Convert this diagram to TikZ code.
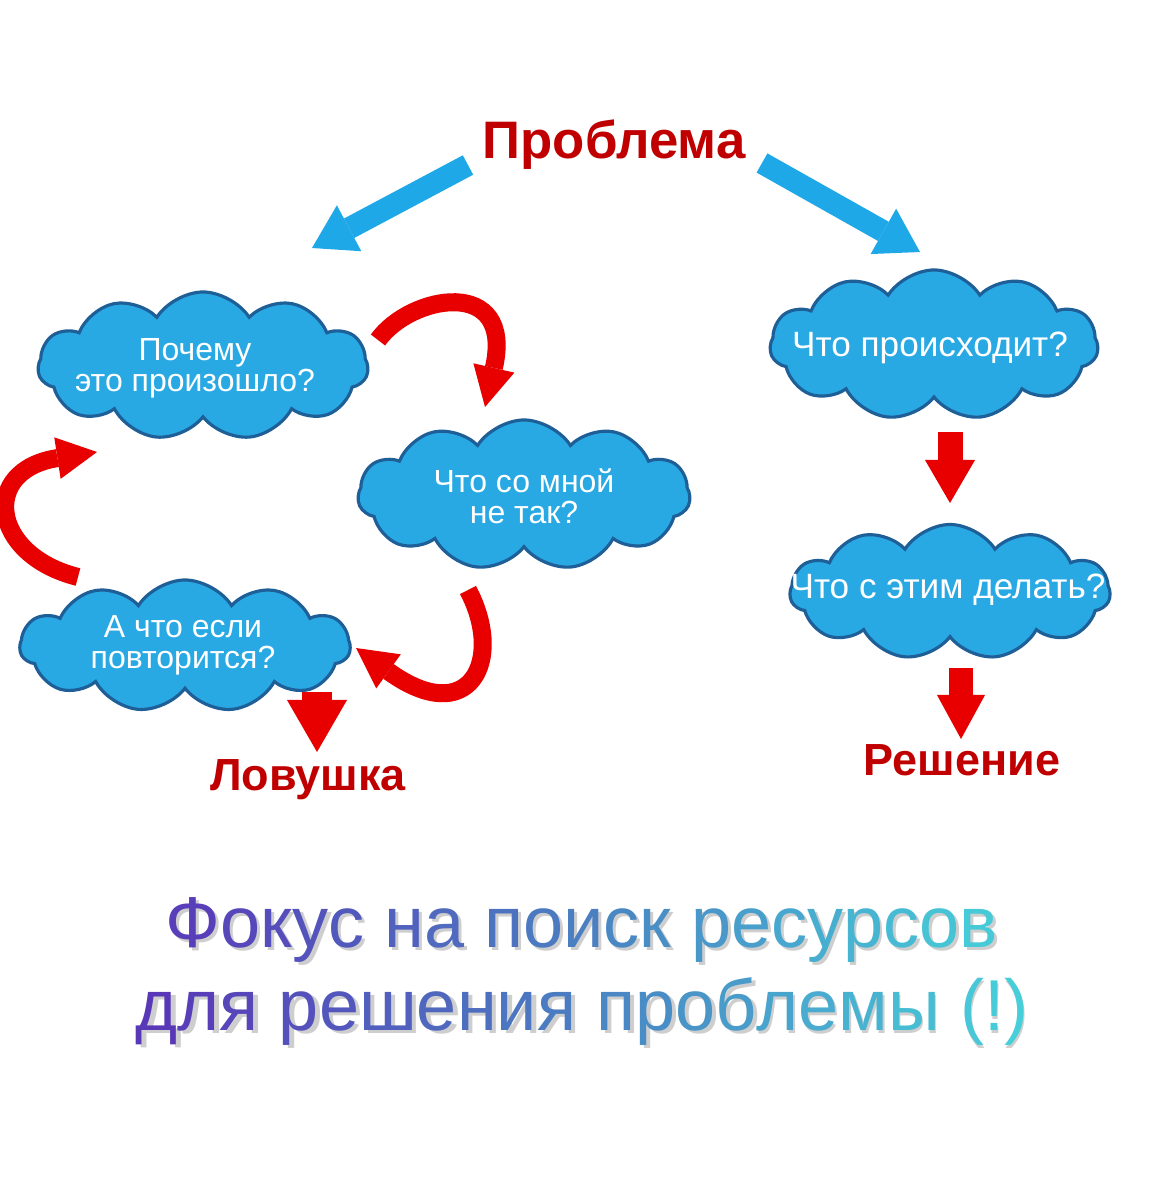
\documentclass[tikz,border=0pt]{standalone}
\usepackage{fontspec}
\setmainfont{Liberation Sans}
\usetikzlibrary{shapes.symbols,arrows.meta}
\definecolor{cloudfill}{HTML}{29A9E3}
\definecolor{cloudedge}{HTML}{1E5F98}
\definecolor{skyarrow}{HTML}{1EA8E8}
\definecolor{redarrow}{HTML}{E80000}
\definecolor{titlered}{HTML}{C00000}
\definecolor{gA}{HTML}{5A35B8}
\definecolor{gB}{HTML}{4A80C2}
\definecolor{gC}{HTML}{46D2DA}
\newcommand\gl[2]{{\ifnum#1<50 \edef\gp{\the\numexpr#1*2\relax}\color{gB!\gp!gA}\else\edef\gp{\the\numexpr(#1-50)*2\relax}\color{gC!\gp!gB}\fi#2}}
\begin{document}
\begin{tikzpicture}[x=0.01cm,y=-0.01cm,
  cloudbox/.style={cloud, cloud puffs=11, cloud puff arc=115, cloud ignores aspect,
    fill=cloudfill, draw=cloudedge, line width=0.9pt, inner sep=0pt},
  cloudtext/.style={text=white, align=center, inner sep=0pt, font=\fontsize{9.1}{8.8}\selectfont},
  cloudtextR/.style={text=white, align=center, inner sep=0pt, font=\fontsize{10}{11}\selectfont},
  titletext/.style={text=titlered, inner sep=0pt, font=\bfseries\fontsize{12.8}{14}\selectfont},
  bluearrow/.style={draw=skyarrow, line width=0.22cm,
    -{Triangle[width=0.52cm,length=0.42cm,line width=0pt]}},
  redcurve/.style={draw=redarrow, line width=0.18cm,
    -{Triangle[width=0.42cm,length=0.40cm,line width=0pt]}},
  reddown/.style={draw=redarrow,
    -{Triangle[width=0.56cm,length=0.45cm,line width=0pt]}},
  bigline/.style={inner sep=0pt, anchor=base, font=\fontsize{20.5}{24}\selectfont}
]
\useasboundingbox (0,0) rectangle (1164,1200);
\fill[white] (0,0) rectangle (1164,1200);

% titles
\node[titletext, font=\bfseries\fontsize{15}{16}\selectfont, anchor=base] (prob) at (614,158) {Проблема};
\node[titletext, anchor=base] (lov) at (308,790) {Ловушка};
\node[titletext, anchor=base] (res) at (962,775) {Решение};

% clouds
\node[cloudbox, minimum width=3.30cm, minimum height=1.48cm] (c1) at (203,366) {};
\node[cloudbox, minimum width=3.32cm, minimum height=1.50cm] (c2) at (524,495) {};
\node[cloudbox, minimum width=3.30cm, minimum height=1.32cm] (c3) at (185,646) {};
\node[cloudbox, minimum width=3.28cm, minimum height=1.50cm] (c4) at (934,345) {};
\node[cloudbox, minimum width=3.20cm, minimum height=1.35cm] (c5) at (950,592) {};

\node[cloudtext] (t1) at (195,368) {Почему\\это произошло?};
\node[cloudtext] (t2) at (524,496) {Что со мной\\не так?};
\node[cloudtext] (t3) at (183,645) {А что если\\повторится?};
\node[cloudtextR] (t4) at (930,348) {Что происходит?};
\node[cloudtextR] (t5) at (948,590) {Что с этим делать?};

% blue arrows
\coordinate (pL) at (468,165);
\coordinate (cL) at (312,248);
\coordinate (pR) at (762,163);
\coordinate (cR) at (920,252);
\draw[bluearrow] (pL) -- (cL);
\draw[bluearrow] (pR) -- (cR);

% red curved arrows (loop)
\coordinate (a1s) at (378,340);
\coordinate (a1e) at (485,407);
\coordinate (a2s) at (468,590);
\coordinate (a2e) at (356,648);
\coordinate (a3s) at (78,577);
\coordinate (a3e) at (97,452);
\draw[redcurve] (a1s) .. controls (410,295) and (515,275) .. (a1e);
\draw[redcurve] (a2s) .. controls (505,660) and (470,730) .. (a2e);
\draw[redcurve] (a3s) .. controls (-10,555) and (-20,470) .. (a3e);

% red straight arrows
\coordinate (d1s) at (317,692);
\coordinate (d1e) at (317,752);
\coordinate (d2s) at (950,432);
\coordinate (d2e) at (950,503);
\coordinate (d3s) at (961,668);
\coordinate (d3e) at (961,739);
\draw[reddown, line width=0.30cm, -{Triangle[width=0.60cm,length=0.52cm,line width=0pt]}] (d1s) -- (d1e);
\draw[reddown, line width=0.25cm, -{Triangle[width=0.50cm,length=0.43cm,line width=0pt]}] (d2s) -- (d2e);
\draw[reddown, line width=0.24cm, -{Triangle[width=0.48cm,length=0.44cm,line width=0pt]}] (d3s) -- (d3e);

% bottom gradient text with shadow
\node[bigline, text=black!55, text opacity=0.35] (s1) at (585,950) {Фокус на поиск ресурсов};
\node[bigline, text=black!55, text opacity=0.35] (s2) at (585,1033) {для решения проблемы (!)};
\node[bigline] (b1) at (582,947) {\gl{6}{Ф}\gl{12}{о}\gl{16}{к}\gl{20}{у}\gl{24}{с} \gl{30}{н}\gl{35}{а} \gl{41}{п}\gl{46}{о}\gl{50}{и}\gl{55}{с}\gl{59}{к} \gl{65}{р}\gl{69}{е}\gl{74}{с}\gl{78}{у}\gl{82}{р}\gl{86}{с}\gl{91}{о}\gl{95}{в}};
\node[bigline] (b2) at (582,1030) {\gl{2}{д}\gl{7}{л}\gl{11}{я} \gl{18}{р}\gl{22}{е}\gl{28}{ш}\gl{33}{е}\gl{38}{н}\gl{43}{и}\gl{47}{я} \gl{54}{п}\gl{58}{р}\gl{63}{о}\gl{67}{б}\gl{72}{л}\gl{76}{е}\gl{81}{м}\gl{87}{ы} \gl{93}{(}\gl{96}{!}\gl{98}{)}};
\end{tikzpicture}
\end{document}
